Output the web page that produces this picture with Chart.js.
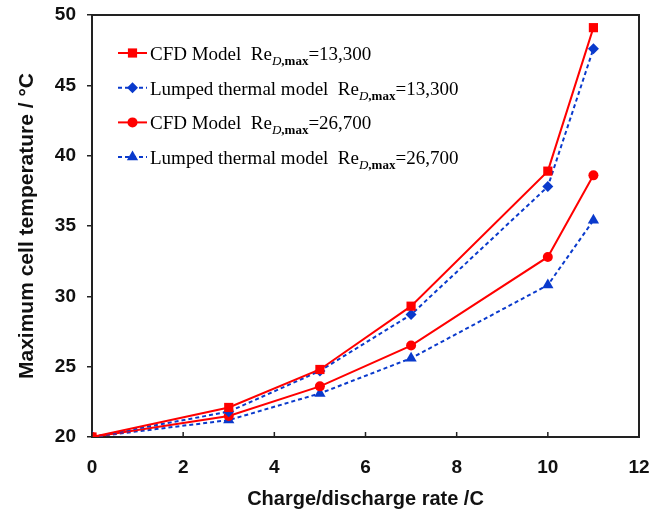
<!DOCTYPE html>
<html>
<head>
<meta charset="utf-8">
<script src="https://cdn.jsdelivr.net/npm/chart.js@4/dist/chart.umd.min.js"></script>
<style>
  html, body { margin: 0; padding: 0; background: #fff; }
  #wrap { width: 664px; height: 511px; position: relative; }
</style>
</head>
<body>
<div id="wrap"><canvas id="tempChart"></canvas></div>
<script>
// --- data ---
const rates = [0, 3, 5, 7, 10, 11];
const cfd13300 = [20, 22.1, 24.8, 29.3, 38.9, 49.1];
const lumped13300 = [20, 21.8, 24.7, 28.7, 37.8, 47.6];
const cfd26700 = [20, 21.5, 23.6, 26.5, 32.8, 38.6];
const lumped26700 = [20, 21.2, 23.1, 25.6, 30.8, 35.4];
const xTicks = [0, 2, 4, 6, 8, 10, 12];
const yTicks = [20, 25, 30, 35, 40, 45, 50];

const RED = '#ff0000';
const BLUE = '#0a3acc';

const legendRows = [
    { name: 'CFD Model', re: '13,300', color: RED, dash: [], style: 'rect', r: 6.5 },
    { name: 'Lumped thermal model', re: '13,300', color: BLUE, dash: [4, 3], style: 'rectRot', r: 5.5 },
    { name: 'CFD Model', re: '26,700', color: RED, dash: [], style: 'circle', r: 5 },
    { name: 'Lumped thermal model', re: '26,700', color: BLUE, dash: [4, 3], style: 'triangle', r: 6.5 }
];

const pts = arr => rates.map((x, i) => ({ x: x, y: arr[i] }));

// frame, inward x ticks and the legend with subscripts
const extras = {
    id: 'extras',
    afterDraw(chart) {
        const { ctx, chartArea: a, scales } = chart;
        ctx.save();
        ctx.strokeStyle = '#222';
        ctx.lineWidth = 2;
        ctx.beginPath();
        ctx.moveTo(a.left, a.top);
        ctx.lineTo(a.right, a.top);
        ctx.lineTo(a.right, a.bottom);
        ctx.stroke();
        // x ticks pointing up into the plot
        ctx.lineWidth = 1.5;
        xTicks.forEach(v => {
            const px = scales.x.getPixelForValue(v);
            ctx.beginPath();
            ctx.moveTo(px, a.bottom);
            ctx.lineTo(px, a.bottom - 5);
            ctx.stroke();
        });

        // legend
        const x0 = 118, x1 = 147, textX = 150;
        legendRows.forEach((row, i) => {
            const y = 53 + i * 34.7;
            ctx.strokeStyle = row.color;
            ctx.lineWidth = 2;
            ctx.setLineDash(row.dash);
            ctx.beginPath();
            ctx.moveTo(x0, y);
            ctx.lineTo(x1, y);
            ctx.stroke();
            ctx.setLineDash([]);
            ctx.fillStyle = row.color;
            Chart.helpers.drawPoint(ctx, { pointStyle: row.style, radius: row.r, borderWidth: 0 }, (x0 + x1) / 2, y);

            ctx.fillStyle = '#000';
            ctx.textBaseline = 'alphabetic';
            ctx.textAlign = 'left';
            const base = y + 7;
            let cx = textX;
            ctx.font = '19px "Liberation Serif"';
            const head = row.name + '  Re';
            ctx.fillText(head, cx, base);
            cx += ctx.measureText(head).width;
            ctx.font = 'italic 13px "Liberation Serif"';
            ctx.fillText('D', cx, base + 5);
            cx += ctx.measureText('D').width;
            ctx.font = 'bold 13px "Liberation Serif"';
            ctx.fillText(',max', cx, base + 5);
            cx += ctx.measureText(',max').width;
            ctx.font = '19px "Liberation Serif"';
            ctx.fillText('=' + row.re, cx, base);
        });
        ctx.restore();
    }
};

new Chart(document.getElementById('tempChart'), {
    type: 'line',
    data: {
        datasets: [
            {
                label: 'CFD Model Re_D,max=13,300',
                data: pts(cfd13300),
                borderColor: RED, backgroundColor: RED,
                borderWidth: 2, pointStyle: 'rect', pointRadius: 6.5, pointBorderWidth: 0
            },
            {
                label: 'Lumped thermal model Re_D,max=13,300',
                data: pts(lumped13300),
                borderColor: BLUE, backgroundColor: BLUE, borderDash: [4, 3],
                borderWidth: 2, pointStyle: 'rectRot', pointRadius: 5.5, pointBorderWidth: 0
            },
            {
                label: 'CFD Model Re_D,max=26,700',
                data: pts(cfd26700),
                borderColor: RED, backgroundColor: RED,
                borderWidth: 2, pointStyle: 'circle', pointRadius: 5, pointBorderWidth: 0
            },
            {
                label: 'Lumped thermal model Re_D,max=26,700',
                data: pts(lumped26700),
                borderColor: BLUE, backgroundColor: BLUE, borderDash: [4, 3],
                borderWidth: 2, pointStyle: 'triangle', pointRadius: 6.5, pointBorderWidth: 0
            }
        ]
    },
    options: {
        responsive: true,
        maintainAspectRatio: false,
        animation: false,
        layout: { padding: { top: 15, right: 25, left: 0, bottom: 0 } },
        plugins: { legend: { display: false }, tooltip: { enabled: false } },
        scales: {
            x: {
                type: 'linear', min: 0, max: 12,
                afterBuildTicks: s => { s.ticks = xTicks.map(v => ({ value: v })); },
                afterFit: s => { s.height = 74; s.paddingLeft = 0; s.paddingRight = 0; },
                grid: { display: false },
                border: { display: true, color: '#222', width: 2 },
                ticks: { color: '#111', padding: 11, font: { family: 'Liberation Sans', size: 19, weight: 'bold' } },
                title: {
                    display: true, text: 'Charge/discharge rate /C', color: '#111',
                    padding: { top: 0, bottom: 0 },
                    font: { family: 'Liberation Sans', size: 20, weight: 'bold' }
                }
            },
            y: {
                min: 20, max: 50,
                afterBuildTicks: s => { s.ticks = yTicks.map(v => ({ value: v })); },
                afterFit: s => { s.width = 92; s.paddingTop = 0; s.paddingBottom = 0; },
                grid: { drawOnChartArea: false, drawTicks: true, tickLength: 5, color: '#222', lineWidth: 1.5 },
                border: { display: true, color: '#222', width: 2 },
                ticks: { color: '#111', padding: 11, font: { family: 'Liberation Sans', size: 19, weight: 'bold' } },
                title: {
                    display: true, text: 'Maximum cell temperature / °C', color: '#111',
                    padding: { top: 15, bottom: 0 },
                    font: { family: 'Liberation Sans', size: 21, weight: 'bold' }
                }
            }
        }
    },
    plugins: [extras]
});
</script>
</body>
</html>
